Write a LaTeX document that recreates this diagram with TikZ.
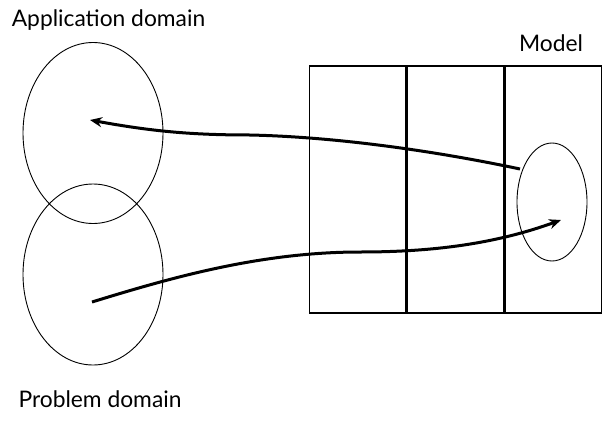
\documentclass[tikz,border=0pt]{standalone}
\usepackage{fontspec}
\setmainfont{Lato}
\usepackage{tikz}
\usetikzlibrary{positioning,shapes.geometric,arrows.meta}

\begin{document}
\begin{tikzpicture}[x=1pt,y=-1pt,
		domainring/.style={ellipse, draw, line width=0.9pt, inner sep=0pt, minimum width=140pt, minimum height=181pt},
		cell/.style={rectangle, draw, line width=1.4pt, inner sep=0pt, minimum width=96.5pt, minimum height=247pt},
		nametext/.style={font=\fontsize{22.8}{26}\selectfont},
		maplink/.style={line width=3pt, -{Stealth[length=12pt,width=10pt]}}]
	\useasboundingbox (0,0) rectangle (607,420);
	\node[domainring] (app) at (93,133) {};
	\node[domainring] (prob) at (93,274.5) {};
	\node[cell] (cella) at (357.5,189.5) {};
	\node[cell, right=0pt of cella] (cellb) {};
	\node[cell, right=0pt of cellb] (cellc) {};
	\node[ellipse, draw, line width=0.9pt, inner sep=0pt, minimum width=70pt, minimum height=118pt] (mod) at (552,202) {};
	\node[nametext] (applabel) at (108.5,20) {Application domain};
	\node[nametext] (modlabel) at (551,43) {Model};
	\node[nametext, below=22pt of prob.south, xshift=7pt] (problabel) {Problem domain};
	\coordinate (appin) at (90,120);
	\coordinate (probin) at (92,302);
	\coordinate (modout) at (520,169);
	\coordinate (modin) at (561,220);
	\coordinate (upmid) at (250,135);
	\coordinate (lowmid) at (360,252);
	\draw[maplink] (modout) .. controls (440,152) and (340,137) .. (upmid)
		.. controls (190,135) and (150,131) .. (appin);
	\draw[maplink] (probin) .. controls (170,278) and (260,252) .. (lowmid)
		.. controls (440,252) and (500,242) .. (modin);
\end{tikzpicture}
\end{document}
